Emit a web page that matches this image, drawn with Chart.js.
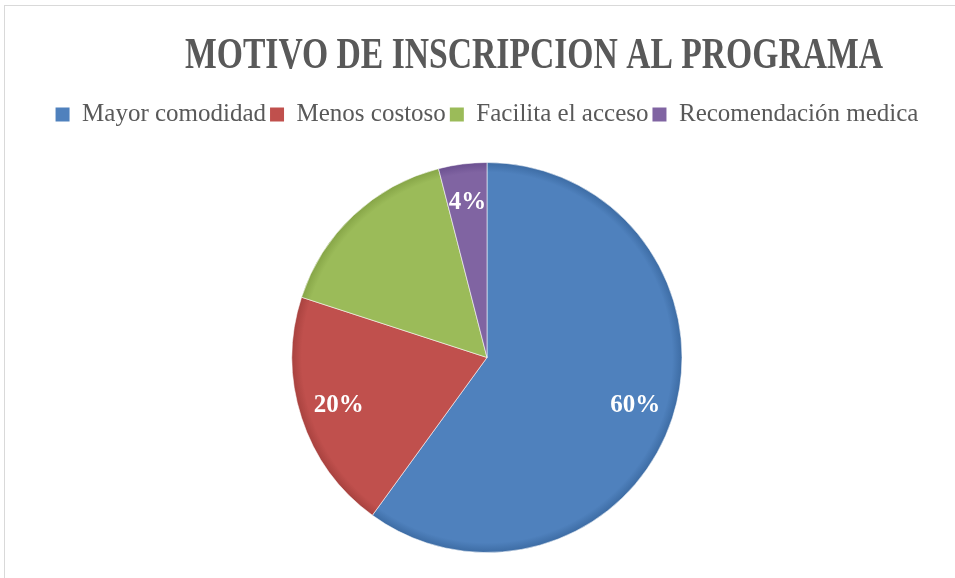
<!DOCTYPE html>
<html>
<head>
<meta charset="utf-8">
<script src="https://cdn.jsdelivr.net/npm/chart.js@4.4.0/dist/chart.umd.min.js"></script>
<style>
  html, body { margin: 0; padding: 0; background: #fff; }
  #wrap { position: relative; width: 955px; height: 578px; overflow: hidden; }
  #frame { position: absolute; left: 4px; top: 5px; right: -2px; bottom: -2px;
           border-left: 1px solid #d9d9d9; border-top: 1px solid #d9d9d9; }
  canvas { position: absolute; left: 0; top: 0; }
</style>
</head>
<body>
<div id="wrap">
  <div id="frame"></div>
  <canvas id="pie" width="955" height="578"></canvas>
</div>
<script>
const chartTitle = 'MOTIVO DE INSCRIPCION AL PROGRAMA';
const categories = ['Mayor comodidad', 'Menos costoso', 'Facilita el acceso', 'Recomendación medica'];
const percentages = [60, 20, 16, 4];
const labelShown = [true, true, false, true]; // green slice has no label in the original
const fillColors = ['#4f81bd', '#c0504d', '#9bbb59', '#8064a2'];
const rimColors = ['#3d6ca4', '#a8423f', '#86a547', '#6b5090'];

const PIE_R = 195;

// office-style shading: flat fill with a darker rim
function sliceFill(context) {
  const chart = context.chart;
  const area = chart.chartArea;
  const i = context.dataIndex;
  if (!area) return fillColors[i];
  const cx = (area.left + area.right) / 2;
  const cy = (area.top + area.bottom) / 2;
  const g = chart.ctx.createRadialGradient(cx, cy, 0, cx, cy, PIE_R);
  g.addColorStop(0, fillColors[i]);
  g.addColorStop(0.95, fillColors[i]);
  g.addColorStop(1, rimColors[i]);
  return g;
}

const titlePlugin = {
  id: 'condensedTitle',
  afterDraw(chart) {
    const ctx = chart.ctx;
    ctx.save();
    ctx.font = 'bold 44px "Liberation Serif"';
    ctx.fillStyle = '#595959';
    ctx.textAlign = 'center';
    ctx.textBaseline = 'alphabetic';
    const w = ctx.measureText(chartTitle).width;
    ctx.translate(534, 68);
    ctx.scale(698 / w, 1);
    ctx.fillText(chartTitle, 0, 0);
    ctx.restore();
  }
};

const pctLabels = {
  id: 'pctLabels',
  afterDatasetsDraw(chart) {
    const ctx = chart.ctx;
    const meta = chart.getDatasetMeta(0);
    ctx.save();
    ctx.font = 'bold 25px "Liberation Serif"';
    ctx.fillStyle = '#ffffff';
    ctx.textAlign = 'center';
    ctx.textBaseline = 'middle';
    meta.data.forEach((arc, i) => {
      if (!labelShown[i]) return;
      const p = arc.getProps(['x', 'y', 'startAngle', 'endAngle', 'outerRadius'], true);
      const mid = (p.startAngle + p.endAngle) / 2;
      const r = p.outerRadius * 0.8;
      ctx.fillText(percentages[i] + '%', p.x + Math.cos(mid) * r, p.y + Math.sin(mid) * r);
    });
    ctx.restore();
  }
};

new Chart(document.getElementById('pie'), {
  type: 'pie',
  data: {
    labels: categories,
    datasets: [{
      data: percentages,
      backgroundColor: sliceFill,
      borderColor: 'rgba(255,255,255,0.55)',
      borderWidth: 1,
      radius: PIE_R
    }]
  },
  options: {
    responsive: false,
    animation: false,
    layout: {
      padding: { top: 98, left: 19, right: 0, bottom: -11 }
    },
    plugins: {
      title: { display: false },
      tooltip: { enabled: false },
      legend: {
        position: 'top',
        labels: {
          boxWidth: 14,
          boxHeight: 14,
          padding: 4,
          color: '#595959',
          font: { family: '"Liberation Serif"', size: 25 },
          generateLabels(chart) {
            return categories.map((c, i) => ({
              text: c,
              fillStyle: fillColors[i],
              strokeStyle: fillColors[i],
              fontColor: '#595959',
              lineWidth: 0,
              hidden: false,
              index: i
            }));
          }
        }
      }
    }
  },
  plugins: [titlePlugin, pctLabels]
});
</script>
</body>
</html>
